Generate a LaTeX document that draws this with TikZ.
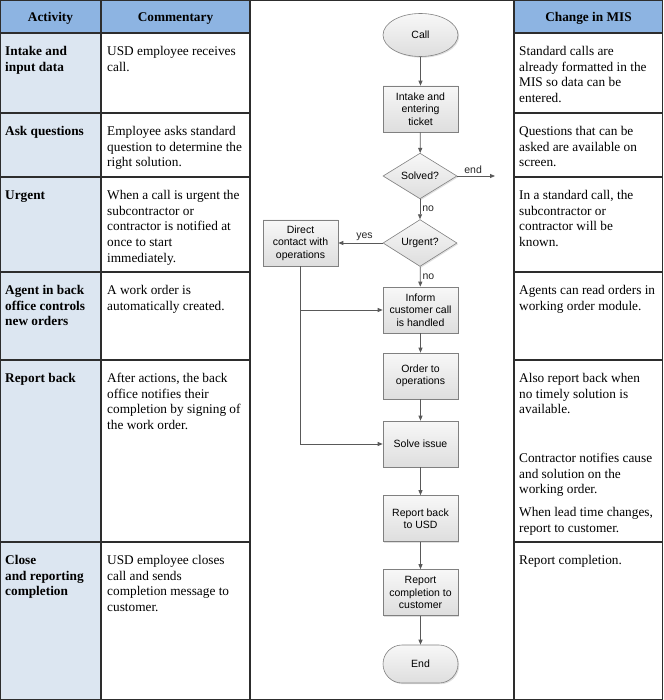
\documentclass[tikz,border=0pt]{standalone}
\usepackage{fontspec}
\setmainfont{Liberation Serif}
\newfontfamily\flowfont{Liberation Sans}
\usetikzlibrary{shapes.geometric,shapes.misc,arrows.meta,shadows}
\definecolor{hdrblue}{RGB}{141,180,226}
\definecolor{actblue}{RGB}{220,230,241}
\definecolor{linegray}{RGB}{89,89,89}
\definecolor{boxborder}{RGB}{128,128,128}
\definecolor{tabline}{RGB}{45,45,45}
\begin{document}
\begin{tikzpicture}[x=1pt,y=-1pt,
 tabtext/.style={anchor=north west, inner sep=0pt, align=left, font=\fontsize{13.3}{15.8}\selectfont},
 acttext/.style={anchor=north west, inner sep=0pt, align=left, font=\fontsize{13.3}{15.8}\selectfont\bfseries},
 hdrtext/.style={anchor=base, inner sep=0pt, font=\fontsize{13.3}{15.8}\selectfont\bfseries},
 tableline/.style={draw=tabline, line width=1.1pt},
 fbase/.style={draw=boxborder, line width=0.6pt, top color=white!97!black, bottom color=black!13,
   drop shadow={shadow xshift=1.2pt, shadow yshift=-1.2pt, opacity=0.25},
   font=\flowfont\fontsize{10.5}{12.5}\selectfont, align=center, inner sep=1pt},
 procbox/.style={fbase, rectangle, minimum width=75pt, minimum height=46pt},
 decision/.style={fbase, diamond, minimum width=74pt, minimum height=43pt, inner sep=0pt},
 terminal/.style={fbase, ellipse, minimum width=75pt, minimum height=43pt},
 endterm/.style={fbase, rectangle, rounded corners=19pt, minimum width=75pt, minimum height=38pt},
 flow/.style={draw=linegray, line width=0.8pt, -{Triangle[length=5pt,width=4pt]}},
 flowlabel/.style={font=\flowfont\fontsize{10.5}{12.5}\selectfont, inner sep=2pt, text=black!85}
]
\useasboundingbox (0,0) rectangle (663,700);
% backgrounds
\fill[hdrblue] (0,0) rectangle (250,33);
\fill[hdrblue] (514,0) rectangle (663,33);
\fill[actblue] (0,33) rectangle (101,700);
% table lines
\draw[tableline] (0.6,0.6) rectangle (662.4,699.4);
\draw[tableline] (101,0) -- (101,700);
\draw[tableline] (250,0) -- (250,700);
\draw[tableline] (514,0) -- (514,700);
\foreach \yy in {33,113,177,272,360,542}{
  \draw[tableline] (0,\yy) -- (250,\yy);
  \draw[tableline] (514,\yy) -- (663,\yy);
}
% headers
\node[hdrtext] (h1) at (50.5,21.5) {Activity};
\node[hdrtext] (h2) at (175.5,21.5) {Commentary};
\node[hdrtext] (h3) at (588.5,21.5) {Change in MIS};
% activity column
\node[acttext] (a1) at (5,44) {\strut Intake and\\input data};
\node[acttext] (a2) at (5,124) {\strut Ask questions};
\node[acttext] (a3) at (5,188) {\strut Urgent};
\node[acttext] (a4) at (5,283) {\strut Agent in back\\office controls\\new orders};
\node[acttext] (a5) at (5,371) {\strut Report back};
\node[acttext] (a6) at (5,553) {\strut Close\\and reporting\\completion};
% commentary column
\node[tabtext] (c1) at (107,44) {\strut USD employee receives\\call.};
\node[tabtext] (c2) at (107,124) {\strut Employee asks standard\\question to determine the\\right solution.};
\node[tabtext] (c3) at (107,188) {\strut When a call is urgent the\\subcontractor or\\contractor is notified at\\once to start\\immediately.};
\node[tabtext] (c4) at (107,283) {\strut A work order is\\automatically created.};
\node[tabtext] (c5) at (107,371) {\strut After actions, the back\\office notifies their\\completion by signing of\\the work order.};
\node[tabtext] (c6) at (107,553) {\strut USD employee closes\\call and sends\\completion message to\\customer.};
% MIS column
\node[tabtext] (m1) at (519,44) {\strut Standard calls are\\already formatted in the\\MIS so data can be\\entered.};
\node[tabtext] (m2) at (519,124) {\strut Questions that can be\\asked are available on\\screen.};
\node[tabtext] (m3) at (519,188) {\strut In a standard call, the\\subcontractor or\\contractor will be\\known.};
\node[tabtext] (m4) at (519,283) {\strut Agents can read orders in\\working order module.};
\node[tabtext] (m5) at (519,371) {\strut Also report back when\\no timely solution is\\available.};
\node[tabtext] (m5b) at (519,451) {\strut Contractor notifies cause\\and solution on the\\working order.};
\node[tabtext] (m5c) at (519,505) {\strut When lead time changes,\\report to customer.};
\node[tabtext] (m6) at (519,553) {\strut Report completion.};
% flowchart
\node[terminal] (call) at (420.5,35) {Call};
\node[procbox] (intake) at (420.5,109) {Intake and\\entering\\ticket};
\node[decision] (solved) at (420,176) {Solved?};
\node[decision] (urgent) at (420,243) {Urgent?};
\node[procbox] (direct) at (300.5,243) {Direct\\contact with\\operations};
\node[procbox] (inform) at (420.5,310) {Inform\\customer call\\is handled};
\node[procbox] (order) at (420.5,376) {Order to\\operations};
\node[procbox] (solve) at (420.5,444) {Solve issue};
\node[procbox] (report) at (420.5,518.5) {Report back\\to USD};
\node[procbox] (complete) at (420.5,592.5) {Report\\completion to\\customer};
\node[endterm] (end) at (420.5,664) {End};
\coordinate (endpt) at (495,176);
% connectors
\draw[flow] (call) -- (intake);
\draw[flow] (intake) -- (solved);
\draw[flow] (solved) -- node[flowlabel, above, xshift=-3pt] {end} (endpt);
\draw[flow] (solved) -- node[flowlabel, right] {no} (urgent);
\draw[flow] (urgent) -- node[flowlabel, above, xshift=4pt] {yes} (direct);
\draw[flow] (urgent) -- node[flowlabel, right] {no} (inform);
\draw[flow] (inform) -- (order);
\draw[flow] (order) -- (solve);
\draw[flow] (solve) -- (report);
\draw[flow] (report) -- (complete);
\draw[flow] (complete) -- (end);
\draw[flow] (direct.south) |- (solve.west);
\draw[flow] (direct.south |- inform.west) -- (inform.west);
\end{tikzpicture}
\end{document}
